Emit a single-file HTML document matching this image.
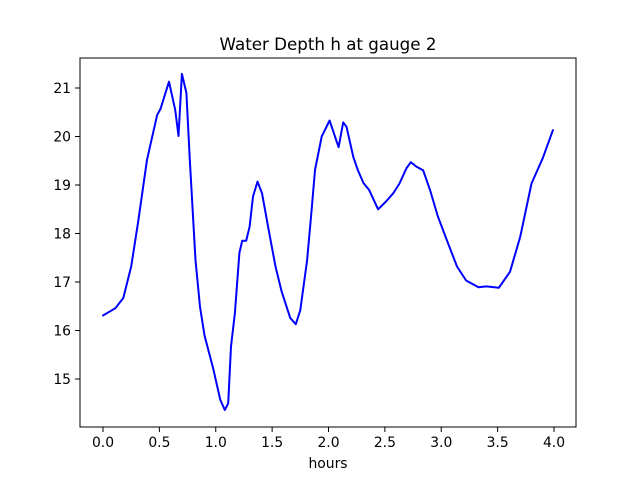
<!DOCTYPE html>
<html><head><meta charset="utf-8"><style>
body{margin:0;background:#fff}
svg{display:block;font-family:"DejaVu Sans","Liberation Sans",sans-serif}
</style></head><body>
<svg id="chart" width="640" height="480" viewBox="0 0 640 480">
<rect width="640" height="480" fill="#fff"/>
<text x="328" y="50" text-anchor="middle" font-size="16.7">Water Depth h at gauge 2</text>
<g id="xt"></g>
<g id="yt"></g>
<polyline id="line" fill="none" stroke="#0000ff" stroke-width="2" stroke-linejoin="round" stroke-linecap="round"/>
<rect x="80" y="58" width="496" height="369" fill="none" stroke="#000" stroke-width="1"/>
<text x="328" y="468" text-anchor="middle" font-size="13.9">hours</text>
</svg>
<script>
const hours=[0,0.11,0.18,0.25,0.31,0.39,0.48,0.51,0.585,0.64,0.67,0.70,0.74,0.77,0.82,0.86,0.90,0.98,1.04,1.08,1.11,1.135,1.17,1.21,1.235,1.27,1.30,1.33,1.37,1.41,1.47,1.53,1.585,1.66,1.71,1.75,1.81,1.85,1.88,1.94,2.01,2.09,2.13,2.16,2.22,2.26,2.31,2.36,2.44,2.51,2.575,2.63,2.69,2.73,2.78,2.84,2.90,2.97,3.06,3.14,3.22,3.33,3.40,3.51,3.61,3.70,3.80,3.90,3.99];
const depth=[16.31,16.46,16.67,17.32,18.22,19.52,20.44,20.57,21.13,20.55,20.01,21.29,20.9,19.52,17.45,16.49,15.9,15.19,14.57,14.36,14.5,15.67,16.36,17.6,17.85,17.85,18.14,18.76,19.07,18.83,18.07,17.32,16.8,16.26,16.13,16.42,17.45,18.48,19.31,20.0,20.33,19.78,20.29,20.2,19.58,19.31,19.04,18.9,18.5,18.66,18.83,19.03,19.34,19.47,19.38,19.3,18.9,18.35,17.8,17.32,17.03,16.89,16.91,16.88,17.21,17.93,19.03,19.55,20.13];
const xTicks=[0.0,0.5,1.0,1.5,2.0,2.5,3.0,3.5,4.0];
const yTicks=[15,16,17,18,19,20,21];
const NS='http://www.w3.org/2000/svg';
const sx=v=>103+v*112.75;
const sy=v=>88+(21-v)*48.5;
document.getElementById('line').setAttribute('points',hours.map((h,i)=>sx(h).toFixed(1)+','+sy(depth[i]).toFixed(1)).join(' '));
const xt=document.getElementById('xt'),yt=document.getElementById('yt');
xTicks.forEach(t=>{
 const l=document.createElementNS(NS,'line');
 
 
 l.setAttribute('x1',sx(t));l.setAttribute('x2',sx(t));l.setAttribute('y1',427);l.setAttribute('y2',432);l.setAttribute('stroke','#000');
 xt.appendChild(l);
 const s=document.createElementNS(NS,'text');
 
 
 s.setAttribute('x',sx(t));s.setAttribute('y',447);s.setAttribute('text-anchor','middle');s.setAttribute('font-size','13.9');
 s.textContent=t.toFixed(1);xt.appendChild(s);
});
yTicks.forEach(t=>{
 const l=document.createElementNS(NS,'line');
 
 
 l.setAttribute('x1',75);l.setAttribute('x2',80);l.setAttribute('y1',sy(t));l.setAttribute('y2',sy(t));l.setAttribute('stroke','#000');
 yt.appendChild(l);
 const s=document.createElementNS(NS,'text');
 
 
 s.setAttribute('x',71);s.setAttribute('y',sy(t)+5);s.setAttribute('text-anchor','end');s.setAttribute('font-size','13.9');
 s.textContent=t;yt.appendChild(s);
});
</script>
</body></html>
